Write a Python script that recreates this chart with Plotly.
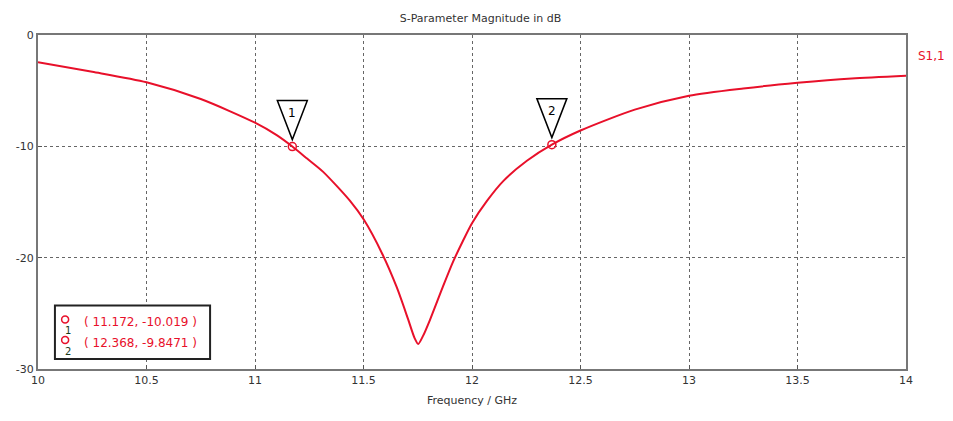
import plotly.graph_objects as go

# S1,1 magnitude
freq = [10.0, 10.25, 10.5, 10.75, 11.0, 11.1, 11.172, 11.24, 11.313, 11.438, 11.502, 11.585,
        11.654, 11.705, 11.735, 11.752, 11.775, 11.806, 11.866, 11.912, 11.958, 12.0, 12.069,
        12.145, 12.253, 12.368, 12.5, 12.75, 13.0, 13.25, 13.5, 13.75, 14.0]
s11_db = [-2.45, -3.3, -4.24, -5.75, -7.88, -9.0, -10.02, -11.1, -12.27, -14.9, -16.6, -19.6,
          -22.7, -25.5, -27.2, -27.75, -27.0, -25.6, -22.6, -20.4, -18.5, -16.9, -14.9,
          -13.1, -11.3, -9.85, -8.58, -6.7, -5.45, -4.8, -4.3, -3.9, -3.65]

marker_freq = [11.172, 12.368]
marker_db = [-10.019, -9.8471]
marker_ids = ["1", "2"]
marker_text = ["( 11.172, -10.019 )", "( 12.368, -9.8471 )"]

x_ticks = [10, 10.5, 11, 11.5, 12, 12.5, 13, 13.5, 14]
y_ticks = [0, -10, -20, -30]

RED = "#e8102a"
FONT = "DejaVu Sans"

fig = go.Figure()
fig.add_trace(go.Scatter(x=freq, y=s11_db, mode="lines",
                         line=dict(color=RED, width=2, shape="spline", smoothing=0.7),
                         hoverinfo="skip"))
fig.add_trace(go.Scatter(x=marker_freq, y=marker_db, mode="markers",
                         marker=dict(symbol="circle-open", size=8, color=RED, line=dict(width=1.5))))

# triangle flags above the markers
for f, d, n in zip(marker_freq, marker_db, marker_ids):
    fig.add_shape(type="path", xref="x", yref="y", xsizemode="pixel", ysizemode="pixel",
                  xanchor=f, yanchor=d, path="M -15,46 L 15,46 L 0,7 Z",
                  line=dict(color="black", width=1.5), fillcolor="white")
    fig.add_annotation(x=f, y=d, text=n, showarrow=False, yshift=34,
                       font=dict(family=FONT, size=12, color="black"))

# marker readout box (opaque, over the grid)
fig.add_shape(type="rect", xref="x", yref="y", x0=10.078, x1=10.793, y0=-29.1, y1=-24.3,
              line=dict(color="#222", width=2), fillcolor="white", layer="above")
box_y = [-25.8, -27.65]
for yy, txt, n in zip(box_y, marker_text, marker_ids):
    fig.add_shape(type="circle", xref="x", yref="y", xsizemode="pixel", ysizemode="pixel",
                  xanchor=10.125, yanchor=yy + 0.25, x0=-3.5, x1=3.5, y0=-3.5, y1=3.5,
                  line=dict(color=RED, width=1.5), fillcolor="white", layer="above")
    fig.add_annotation(x=10.205, y=yy, text=txt, showarrow=False, xanchor="left",
                       font=dict(family=FONT, size=12, color=RED))
    fig.add_annotation(x=10.14, y=yy - 0.75, text=n, showarrow=False,
                       font=dict(family=FONT, size=10, color="#1a3a1a"))

fig.add_annotation(xref="paper", yref="paper", x=1.012, y=0.965, xanchor="left", text="S1,1",
                   showarrow=False, font=dict(family=FONT, size=12, color=RED))

# the page puts the figure 8px in from the corner, so trim the size to fit the window
fig.update_layout(
    width=945, height=413,
    margin=dict(l=30, r=47, t=27, b=52, autoexpand=False),
    paper_bgcolor="white", plot_bgcolor="white",
    showlegend=False,
    font=dict(family=FONT, size=11, color="#333"),
    title=dict(text="S-Parameter Magnitude in dB", x=0.5, xanchor="center", y=0.985,
               font=dict(family=FONT, size=11, color="#333")),
)
fig.update_xaxes(range=[10, 14], tickvals=x_ticks, ticktext=[f"{t:g}" for t in x_ticks],
                 showgrid=True, gridcolor="#666", griddash="dot", gridwidth=1,
                 showline=True, linecolor="#777", linewidth=2, mirror=True,
                 ticks="inside", ticklen=4, tickcolor="#555", zeroline=False, automargin=False,
                 title=dict(text="Frequency / GHz", font=dict(family=FONT, size=11, color="#333"),
                            standoff=10))
fig.update_yaxes(range=[-30, 0], tickvals=y_ticks, ticktext=[str(t) for t in y_ticks],
                 showgrid=True, gridcolor="#666", griddash="dot", gridwidth=1,
                 showline=True, linecolor="#777", linewidth=2, mirror=True,
                 ticks="inside", ticklen=4, tickcolor="#555", zeroline=False, automargin=False)

fig.write_html("out.html")
